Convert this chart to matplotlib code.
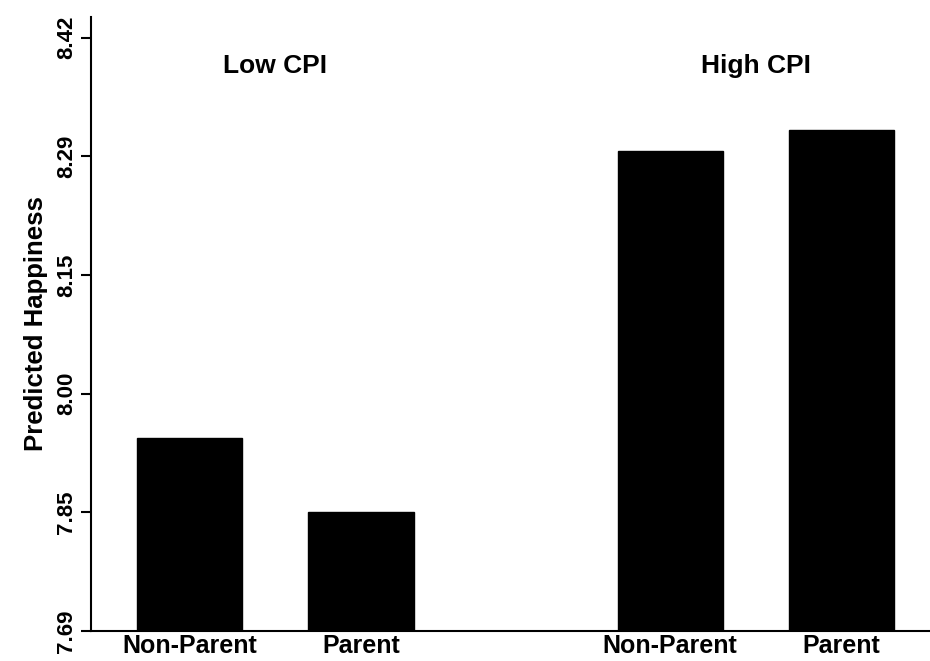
import matplotlib
matplotlib.use("Agg")
import matplotlib.pyplot as plt
import numpy as np

plt.rcParams['font.family'] = ['Liberation Sans', 'DejaVu Sans']

# --- data ---
groups = ["Low CPI", "High CPI"]
bar_labels = ["Non-Parent", "Parent", "Non-Parent", "Parent"]
happiness = [7.928, 7.836, 8.281, 8.307]
tick_labels = ["7.69", "7.85", "8.00", "8.15", "8.29", "8.42"]

y_min, y_max = 7.69, 8.42

# bar positions: two per group, wider gap between groups
x_pos = np.array([0.0, 1.0, 2.807, 3.807])
group_centers = [(x_pos[0] + x_pos[1]) / 2, (x_pos[2] + x_pos[3]) / 2]

fig = plt.figure(figsize=(9.3, 6.61), dpi=100)
ax = fig.add_axes([0.0978, 0.0454, 0.9022, 0.9296])

ax.bar(x_pos, np.array(happiness) - y_min, bottom=y_min, width=0.614,
       color="black", edgecolor="black")

ax.set_xlim(-0.579, 4.327)
ax.set_ylim(y_min, 8.446)

ax.set_yticks(np.linspace(y_min, y_max, len(tick_labels)))
ax.set_yticklabels(tick_labels, rotation=90, va="center", fontsize=16,
                   fontweight="bold")
ax.set_xticks(x_pos)
ax.set_xticklabels(bar_labels, fontsize=18, fontweight="bold")
ax.tick_params(axis="x", length=0, pad=2)
ax.tick_params(axis="y", length=7, width=1.5, pad=3)

ax.set_ylabel("Predicted Happiness", fontsize=18.5, fontweight="bold",
              labelpad=6)

for gx, name in zip(group_centers, groups):
    ax.text(gx, 8.377, name, ha="center", va="baseline", fontsize=19,
            fontweight="bold")

ax.spines["top"].set_visible(False)
ax.spines["right"].set_visible(False)
ax.spines["left"].set_linewidth(1.5)
ax.spines["bottom"].set_linewidth(1.5)

fig.savefig("out.png", dpi=100)
